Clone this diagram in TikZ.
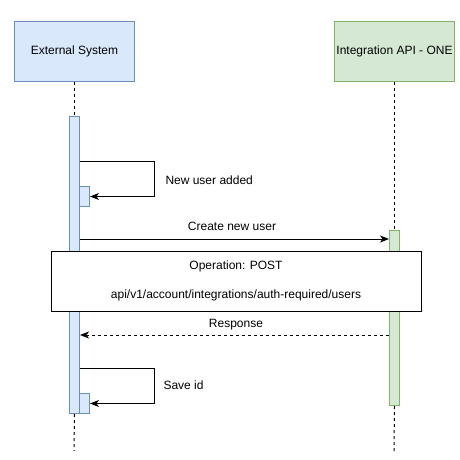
\documentclass[tikz,border=0pt]{standalone}
\usepackage{fontspec}
\setmainfont{Liberation Sans}
\usetikzlibrary{arrows.meta}
\definecolor{bfill}{HTML}{DAE8FC}
\definecolor{bdraw}{HTML}{6C8EBF}
\definecolor{gfill}{HTML}{D5E8D4}
\definecolor{gdraw}{HTML}{82B366}
\begin{document}
\begin{tikzpicture}[x=1pt,y=-1pt,line width=1pt,
  every node/.style={font=\fontsize{12}{14}\selectfont},
  head/.style={draw,rectangle,minimum width=120pt,minimum height=60pt,inner sep=0pt,anchor=north west},
  bar/.style={draw,rectangle,minimum width=10pt,inner sep=0pt,anchor=north west},
  life/.style={line width=1pt,dash pattern=on 3pt off 3pt},
  msg/.style={-{Stealth[length=9pt,width=7pt,inset=2.5pt]}},
  lbl/.style={inner sep=0pt}]
\useasboundingbox (0,0) rectangle (460,460);
% headers
\node[head,fill=bfill,draw=bdraw] (ext) at (14,21) {External System};
\node[head,fill=gfill,draw=gdraw] (api) at (334,21) {Integration API - ONE};
% end points of lifelines
\coordinate (extend) at (74,451);
\coordinate (apiend) at (394,451);
% activation bars
\node[bar,fill=bfill,draw=bdraw,minimum height=297pt] (act1) at (69,116) {};
\node[bar,fill=gfill,draw=gdraw,minimum height=175pt] (act2) at (389,230) {};
% lifelines
\draw[life] (ext.south) -- (act1.north);
\draw[life] (act1.south) -- (extend);
\draw[life] (api.south) -- (act2.north);
\draw[life] (act2.south) -- (apiend);
% small activation boxes
\node[bar,fill=bfill,draw=bdraw,minimum height=20pt] (sm1) at (79,186) {};
\node[bar,fill=bfill,draw=bdraw,minimum height=20pt] (sm2) at (79,393) {};
% self message 1
\coordinate (c1) at (154,161);
\draw[msg] (act1.east |- c1) -- (c1) |- (sm1.east);
\node[lbl,anchor=west] (t1) at (165,180) {New user added};
% create new user
\coordinate (c2) at (0,239);
\draw[msg] (act1.east |- c2) -- (act2.west |- c2);
\node[lbl] (t2) at (232,226) {Create new user};
% response
\coordinate (c3) at (0,335);
\draw[msg,dash pattern=on 3pt off 3pt] (act2.west |- c3) -- (act1.east |- c3);
\node[lbl] (t3) at (236,325) {Response};
% self message 2
\coordinate (c4) at (154,368);
\draw[msg] (act1.east |- c4) -- (c4) |- (sm2.east);
\node[lbl,anchor=west] (t4) at (163,385) {Save id};
% operation box
\node[draw,fill=white,rectangle,minimum width=370pt,minimum height=60pt,inner sep=0pt,anchor=north west] (op) at (51,251) {};
\node[lbl] (op1) at (236,266) {Operation: POST};
\node[lbl] (op2) at (236,295) {api/v1/account/integrations/auth-required/users};
\end{tikzpicture}
\end{document}
